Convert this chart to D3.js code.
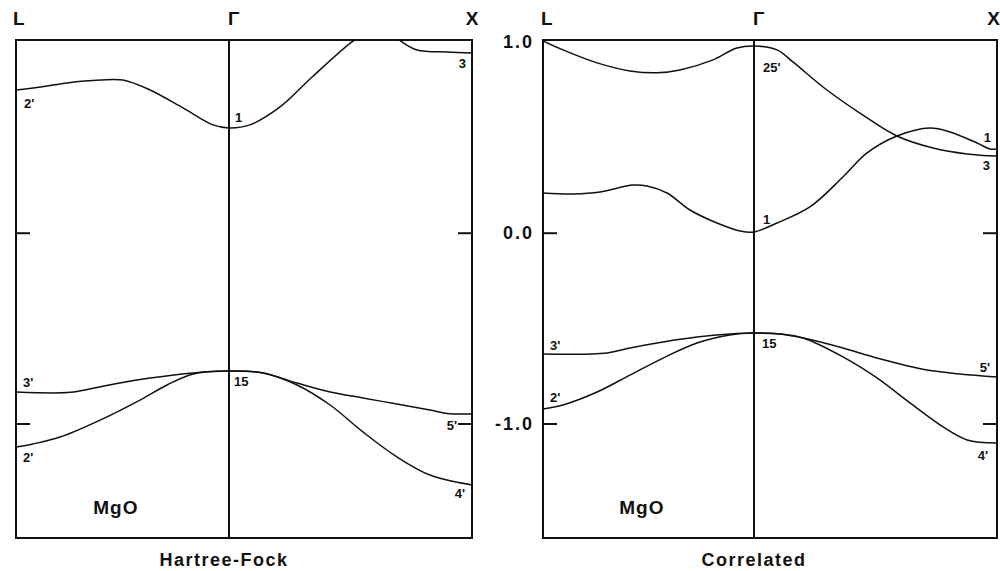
<!DOCTYPE html>
<html>
<head>
<meta charset="utf-8">
<script src="https://cdn.jsdelivr.net/npm/d3@7"></script>
<style>
  body { margin: 0; background: #fff; }
  svg text { font-family: "Liberation Sans", Arial, sans-serif; font-weight: bold; fill: #111; }
</style>
</head>
<body>
<div id="chart"></div>
<script>
let width = 1000;
let height = 571;

// symmetry points along the path L - Gamma - X
let kPoints = [-0.866, 0, 1];
let kNames = ["L", "\u0393", "X"];
let energyTicks = [1.0, 0.0, -1.0];
let panelTitles = ["Hartree-Fock", "Correlated"];
let material = "MgO";

// Hartree-Fock bands, [k, E]
let hfCond1 = [[-0.866, 0.748], [-0.797, 0.758], [-0.659, 0.785], [-0.524, 0.800], [-0.431, 0.800],
  [-0.321, 0.748], [-0.187, 0.654], [-0.065, 0.565], [0, 0.549], [0.086, 0.565], [0.21, 0.659],
  [0.342, 0.816], [0.506, 1.0], [0.547, 1.03]];
let hfCond2 = [[0.683, 1.03], [0.712, 1.0], [0.774, 0.958], [0.897, 0.947], [1.0, 0.942]];
let hfVal1 = [[-0.866, -0.835], [-0.659, -0.838], [-0.577, -0.822], [-0.455, -0.790], [-0.321, -0.762],
  [-0.146, -0.735], [0, -0.725], [0.14, -0.735], [0.28, -0.788], [0.416, -0.835], [0.551, -0.866],
  [0.691, -0.898], [0.827, -0.929], [0.897, -0.947], [1.0, -0.95]];
let hfVal2 = [[-0.866, -1.123], [-0.797, -1.107], [-0.687, -1.071], [-0.524, -0.982], [-0.362, -0.877],
  [-0.252, -0.798], [-0.146, -0.740], [0, -0.725], [0.14, -0.735], [0.28, -0.798], [0.416, -0.903],
  [0.551, -1.044], [0.691, -1.175], [0.827, -1.270], [1.0, -1.322]];

// Correlated bands, [k, E]
let coCond25 = [[-0.866, 1.005], [-0.784, 0.958], [-0.644, 0.890], [-0.509, 0.848], [-0.398, 0.838],
  [-0.304, 0.853], [-0.168, 0.906], [-0.07, 0.968], [0, 0.979], [0.095, 0.958], [0.16, 0.895],
  [0.30, 0.748], [0.436, 0.627], [0.588, 0.507], [0.737, 0.444], [0.877, 0.413], [1.0, 0.402]];
let coCond1 = [[-0.866, 0.208], [-0.743, 0.203], [-0.632, 0.213], [-0.497, 0.250], [-0.439, 0.245],
  [-0.357, 0.208], [-0.263, 0.119], [-0.152, 0.051], [-0.057, 0.009], [0, 0.004], [0.095, 0.051],
  [0.23, 0.135], [0.366, 0.292], [0.465, 0.418], [0.588, 0.507], [0.724, 0.549], [0.807, 0.528],
  [0.918, 0.470], [0.971, 0.439], [1.0, 0.439]];
let coVal1 = [[-0.866, -0.636], [-0.603, -0.630], [-0.509, -0.604], [-0.373, -0.573], [-0.234, -0.547],
  [-0.099, -0.531], [0, -0.526], [0.107, -0.531], [0.202, -0.552], [0.366, -0.604], [0.506, -0.657],
  [0.712, -0.720], [0.848, -0.740], [1.0, -0.756]];
let coVal2 = [[-0.866, -0.924], [-0.784, -0.903], [-0.644, -0.835], [-0.509, -0.746], [-0.373, -0.657],
  [-0.234, -0.578], [-0.099, -0.536], [0, -0.526], [0.107, -0.531], [0.202, -0.552], [0.366, -0.651],
  [0.506, -0.761], [0.642, -0.892], [0.778, -1.018], [0.877, -1.086], [1.0, -1.102]];

// symmetry labels: [band index, symmetry point index, text]
let hfLabels = [[0, 0, "2'"], [0, 1, "1"], [1, 2, "3"], [2, 0, "3'"], [2, 1, "15"],
  [3, 0, "2'"], [2, 2, "5'"], [3, 2, "4'"]];
let coLabels = [[0, 1, "25'"], [1, 1, "1"], [1, 2, "1"], [0, 2, "3"], [2, 0, "3'"],
  [2, 1, "15"], [3, 0, "2'"], [2, 2, "5'"], [3, 2, "4'"]];

// label offsets in px (dx, dy, anchor), same order as label lists
let hfOffsets = [[8, 18, "start"], [6, -6, "start"], [-6, 15, "end"], [7, -5, "start"], [5, 15, "start"],
  [7, 15, "start"], [-15, 16, "end"], [-7, 13, "end"]];
let coOffsets = [[9, 26, "start"], [9, -8, "start"], [-6, -7, "end"], [-7, 14, "end"], [7, -4, "start"],
  [8, 15, "start"], [7, -7, "start"], [-7, -5, "end"], [-9, 17, "end"]];

let panels = [
  { title: panelTitles[0], bands: [hfCond1, hfCond2, hfVal1, hfVal2], labels: hfLabels, offsets: hfOffsets,
    range: [16, 229, 472], titleX: 224, xNameShift: [-3, -1, 0], xNameAnchor: "middle" },
  { title: panelTitles[1], bands: [coCond25, coCond1, coVal1, coVal2], labels: coLabels, offsets: coOffsets,
    range: [543, 754, 997], titleX: 754, xNameShift: [-2, -1, 3], xNameAnchor: "end" }
];

let margin = { top: 40, bottom: 538 };

let yScale = d3.scaleLinear()
  .domain([-1.6, 1.01])
  .range([margin.bottom, margin.top]);

let svg = d3.select("#chart")
  .append("svg")
  .attr("width", width)
  .attr("height", height);

panels.forEach(function (p, pi) {
  let xScale = d3.scaleLinear().domain(kPoints).range(p.range);
  let x0 = p.range[0], x1 = p.range[2];
  let g = svg.append("g");

  svg.append("clipPath")
    .attr("id", "clip" + pi)
    .append("rect")
    .attr("x", x0).attr("y", margin.top)
    .attr("width", x1 - x0).attr("height", margin.bottom - margin.top);

  let line = d3.line()
    .x(function (d) { return xScale(d[0]); })
    .y(function (d) { return yScale(d[1]); })
    .curve(d3.curveCatmullRom.alpha(0.5));

  g.append("g")
    .attr("clip-path", "url(#clip" + pi + ")")
    .selectAll("path")
    .data(p.bands)
    .enter()
    .append("path")
    .attr("d", line)
    .attr("fill", "none")
    .attr("stroke", "#111")
    .attr("stroke-width", 1.5);

  // frame and Gamma line
  g.append("rect")
    .attr("x", x0).attr("y", margin.top)
    .attr("width", x1 - x0).attr("height", margin.bottom - margin.top)
    .attr("fill", "none")
    .attr("stroke", "#111")
    .attr("stroke-width", 2);

  g.append("line")
    .attr("x1", xScale(0)).attr("x2", xScale(0))
    .attr("y1", margin.top).attr("y2", margin.bottom)
    .attr("stroke", "#111")
    .attr("stroke-width", 2);

  // inward ticks on both edges
  let tickVals = [0, -1];
  let leftAxis = d3.axisRight(yScale).tickValues(tickVals).tickSize(14).tickFormat("");
  let rightAxis = d3.axisLeft(yScale).tickValues(tickVals).tickSize(14).tickFormat("");
  [[leftAxis, x0], [rightAxis, x1]].forEach(function (a) {
    let ax = g.append("g")
      .attr("transform", "translate(" + a[1] + ",0)")
      .call(a[0]);
    ax.select(".domain").remove();
    ax.selectAll("line").attr("stroke", "#111").attr("stroke-width", 2);
  });

  // symmetry point names
  g.selectAll(".kname")
    .data(kPoints)
    .enter()
    .append("text")
    .attr("class", "kname")
    .attr("x", function (d, i) { return xScale(d) + p.xNameShift[i]; })
    .attr("y", 25)
    .attr("text-anchor", function (d, i) { return i < 2 ? "start" : p.xNameAnchor; })
    .style("font-size", "19px")
    .text(function (d, i) { return kNames[i]; });

  // band symmetry labels
  g.selectAll(".blabel")
    .data(p.labels)
    .enter()
    .append("text")
    .attr("class", "blabel")
    .attr("x", function (d, i) { return xScale(kPoints[d[1]]) + p.offsets[i][0]; })
    .attr("y", function (d, i) {
      let band = p.bands[d[0]];
      let k = kPoints[d[1]];
      let pt = band.find(function (b) { return Math.abs(b[0] - k) < 1e-6; });
      return yScale(pt[1]) + p.offsets[i][1];
    })
    .attr("text-anchor", function (d, i) { return p.offsets[i][2]; })
    .style("font-size", "13px")
    .text(function (d) { return d[2]; });

  g.append("text")
    .attr("x", xScale(-0.46))
    .attr("y", yScale(-1.475))
    .attr("text-anchor", "middle")
    .style("font-size", "19px")
    .style("letter-spacing", "1px")
    .text(material);

  g.append("text")
    .attr("x", p.titleX)
    .attr("y", 566)
    .attr("text-anchor", "middle")
    .style("font-size", "18px")
    .style("letter-spacing", "1.5px")
    .text(p.title);
});

// energy scale labels between the panels
svg.selectAll(".elabel")
  .data(energyTicks)
  .enter()
  .append("text")
  .attr("class", "elabel")
  .attr("x", 534)
  .attr("y", function (d) { return yScale(d) + 6; })
  .attr("text-anchor", "end")
  .style("font-size", "18px")
  .style("letter-spacing", "2px")
  .text(function (d) { return d3.format(".1f")(d).replace("\u2212", "-"); });
</script>
</body>
</html>
